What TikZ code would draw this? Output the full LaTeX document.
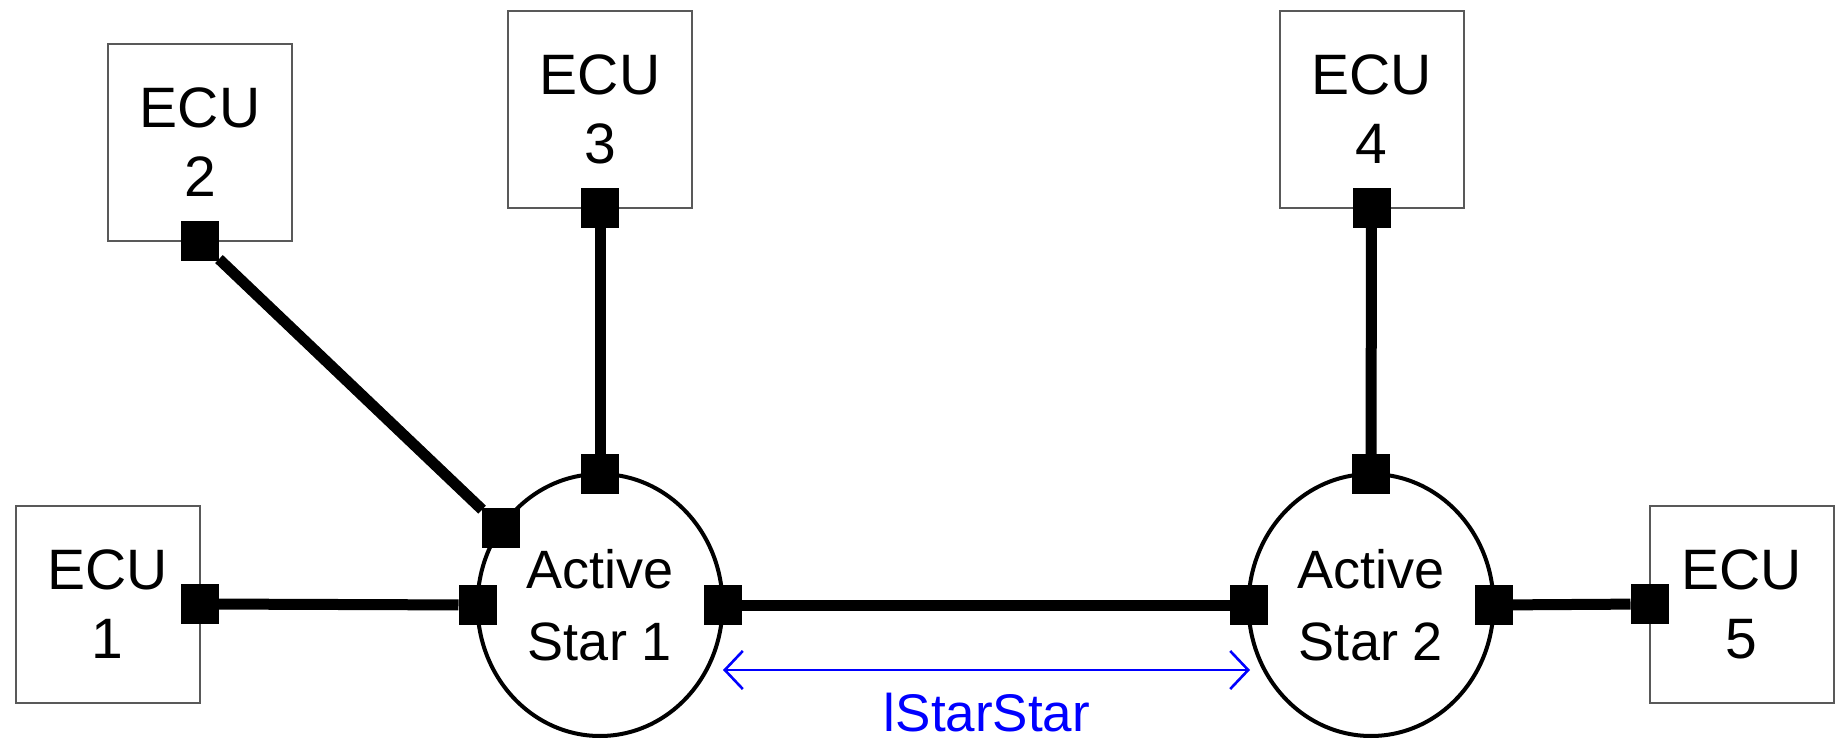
\documentclass[tikz,border=0pt]{standalone}
\usepackage{fontspec}
\setmainfont{Liberation Sans}
\usetikzlibrary{positioning,arrows.meta,shapes.geometric}

\begin{document}
\begin{tikzpicture}[x=0.5pt,y=0.5pt,>={Straight Barb[length=9pt,width=19pt]},
  ecu/.style={draw=black!65,line width=1pt,rectangle,minimum width=92pt,minimum height=98.5pt,
    inner sep=0pt,outer sep=0pt,align=center,font=\fontsize{28.5}{34.5}\selectfont},
  hub/.style={draw,ellipse,line width=2pt,minimum width=122.5pt,minimum height=131pt,
    inner sep=0pt,outer sep=0pt,align=center,font=\fontsize{27}{36}\selectfont},
  port/.style={rectangle,fill=black,minimum width=19pt,minimum height=20pt,inner sep=0pt,outer sep=0pt},
  link/.style={line width=5.5pt}]
  \useasboundingbox (0,0) rectangle (1843,740);
  % Stars
  \node (s1) [hub] at (600,135) {Active\\Star 1};
  \node (s2) [hub] at (1371,135) {Active\\Star 2};
  % ECUs
  \node (ecu1) [ecu] at (107.5,136) {ECU\\1};
  \node (ecu2) [ecu] at (200,597.5) {ECU\\2};
  \node (ecu3) [ecu] at (600,630.5) {ECU\\3};
  \node (ecu4) [ecu] at (1371.5,630.5) {ECU\\4};
  \node (ecu5) [ecu] at (1741.5,136) {ECU\\5};
  % Ports
  \node (p1) [port] at (ecu1.east) {};
  \node (p2) [port] at (ecu2.south) {};
  \node (p3) [port] at (ecu3.south) {};
  \node (p4) [port] at (ecu4.south) {};
  \node (p5) [port] at (ecu5.west) {};
  \node (s1w) [port] at (s1.west) {};
  \node (s1nw) [port] at (s1.142) {};
  \node (s1n) [port] at (s1.north) {};
  \node (s1e) [port] at (s1.east) {};
  \node (s2w) [port] at (s2.west) {};
  \node (s2n) [port] at (s2.north) {};
  \node (s2e) [port] at (s2.east) {};

  \draw[link] (p1) -- (s1w);
  \draw[link] (p2) -- (s1nw);
  \draw[link] (p3) -- (s1n);
  \draw[link] (s1e) -- (s2w);
  \draw[link] (p4) -- (s2n);
  \draw[link] (s2e) -- (p5);

  % Distance between the stars
  \coordinate (dl) at (723,70);
  \coordinate (dr) at (1250,70);
  \draw[<->,blue,line width=1.3pt] (dl) -- (dr);
  \node (len) [anchor=base,text=blue,inner sep=0pt,font=\fontsize{26.5}{32}\selectfont] at (987,9) {lStarStar};
\end{tikzpicture}
\end{document}
